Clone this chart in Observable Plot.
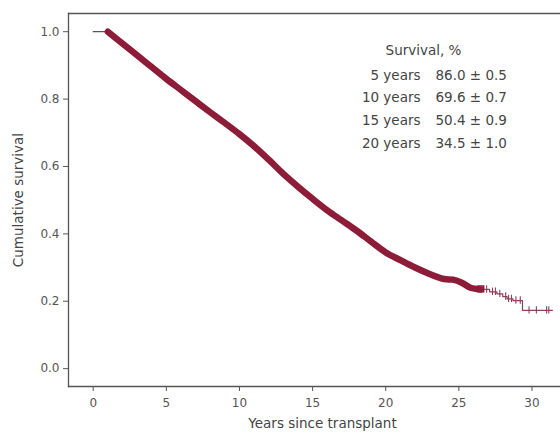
<!DOCTYPE html>
<html><head><meta charset="utf-8">
<script src="https://cdn.jsdelivr.net/npm/d3@7"></script>
<script src="https://cdn.jsdelivr.net/npm/@observablehq/plot@0.6"></script>
<style>body{margin:0;background:#fff;overflow:hidden} svg{display:block}</style>
</head><body><div id="chart"></div>
<script>
// Main Kaplan-Meier curve (thick)
const years    = [1, 2, 3, 4, 5, 6, 7, 8, 9, 10, 11, 12, 13, 14, 15, 16, 17, 18, 19, 20, 21, 22, 23, 24, 24.6, 25.2, 25.8, 26.5];
const survival = [1.0, 0.965, 0.93, 0.895, 0.86, 0.827, 0.794, 0.761, 0.729, 0.696, 0.66, 0.62, 0.578, 0.54, 0.504, 0.47, 0.44, 0.41, 0.377, 0.345, 0.322, 0.30, 0.281, 0.266, 0.264, 0.255, 0.24, 0.235];
// Start segment (thin)
const startYears = [0, 1];
const startSurv  = [1.0, 1.0];
// Tail (thin step line with censor ticks)
const tailYears = [26.5, 27.1, 27.6, 28.0, 28.3, 28.7, 29.35, 31.4];
const tailSurv  = [0.235, 0.228, 0.222, 0.214, 0.207, 0.202, 0.173, 0.173];
const censorYears = [26.9, 27.3, 27.5, 27.8, 28.2, 28.4, 28.6, 28.9, 29.2, 29.8, 30.3, 31.0, 31.15];
const squareYear = [26.5];
const squareSurv = [0.237];
// Axis ticks
const xTicks = [0, 5, 10, 15, 20, 25, 30];
const yTicks = [0, 0.2, 0.4, 0.6, 0.8, 1.0];
// Annotation table
const tableTitle  = "Survival, %";
const tableLabels = ["5 years", "10 years", "15 years", "20 years"];
const tableValues = ["86.0", "69.6", "50.4", "34.5"];
const tableErrors = ["0.5", "0.7", "0.9", "1.0"];

const mainData = years.map((x, i) => ({x, y: survival[i]}));
const startData = startYears.map((x, i) => ({x, y: startSurv[i]}));
const tailData = tailYears.map((x, i) => ({x, y: tailSurv[i]}));
const stepAt = x => { let v = tailSurv[0]; for (let i = 0; i < tailYears.length; i++) if (tailYears[i] <= x) v = tailSurv[i]; return v; };
const censorData = censorYears.map(x => ({x, y: stepAt(x)}));
const squareData = squareYear.map((x, i) => ({x, y: squareSurv[i]}));

const red = "#8c1c37";
const axisColor = "#555";

const plot = Plot.plot({
  width: 560, height: 439,
  marginLeft: 68, marginTop: 13, marginBottom: 53, marginRight: 0,
  style: {fontFamily: "DejaVu Sans", fontSize: "12px", color: axisColor, background: "#fff"},
  x: {domain: [-1.69, 31.95]},
  y: {domain: [-0.053, 1.054]},
  marks: [
    Plot.frame({anchor: "left", stroke: axisColor, strokeWidth: 1.3}),
    Plot.frame({anchor: "top", stroke: axisColor, strokeWidth: 1.3}),
    Plot.frame({anchor: "bottom", stroke: axisColor, strokeWidth: 1.3}),
    Plot.axisX({ticks: xTicks, tickSize: 5, tickPadding: 7, label: null, stroke: axisColor, fill: axisColor}),
    Plot.axisY({ticks: yTicks, tickSize: 5, tickPadding: 4, tickFormat: d3.format(".1f"), label: null, stroke: axisColor, fill: axisColor}),
    Plot.line(startData, {x: "x", y: "y", stroke: "#555", strokeWidth: 1.2}),
    Plot.line(tailData, {x: "x", y: "y", curve: "step-after", stroke: "#8e4058", strokeWidth: 1.2}),
    Plot.ruleX(censorData, {x: "x", y1: d => d.y - 0.011, y2: d => d.y + 0.011, stroke: "#8e4058", strokeWidth: 1.1}),
    Plot.line(mainData, {x: "x", y: "y", curve: "catmull-rom", stroke: red, strokeWidth: 6.5}),
    Plot.dot(squareData, {x: "x", y: "y", symbol: "square", r: 3.2, stroke: red, strokeWidth: 1.6, fill: "none"}),
    Plot.text([tableTitle], {frameAnchor: "top-left", dx: 355, dy: 32, text: d => d, textAnchor: "middle", fontSize: 13.5, fill: "#444"}),
    Plot.text([tableLabels.join("\n")], {frameAnchor: "top-left", dx: 352, dy: 50, text: d => d, textAnchor: "end", lineAnchor: "top", lineHeight: 1.68, fontSize: 13.5, fill: "#444"}),
    Plot.text([tableValues.map((v, i) => `${v} ± ${tableErrors[i]}`).join("\n")], {frameAnchor: "top-left", dx: 367, dy: 50, text: d => d, textAnchor: "start", lineAnchor: "top", lineHeight: 1.68, fontSize: 13.5, fill: "#444"}),
    Plot.text(["Years since transplant"], {frameAnchor: "bottom", dx: 8, dy: 41, text: d => d, fontSize: 13.5, fill: "#444"}),
    Plot.text(["Cumulative survival"], {frameAnchor: "left", dx: -50, rotate: -90, textAnchor: "middle", text: d => d, fontSize: 13.5, fill: "#444"})
  ]
});
document.getElementById("chart").append(plot);
</script>
</body></html>
